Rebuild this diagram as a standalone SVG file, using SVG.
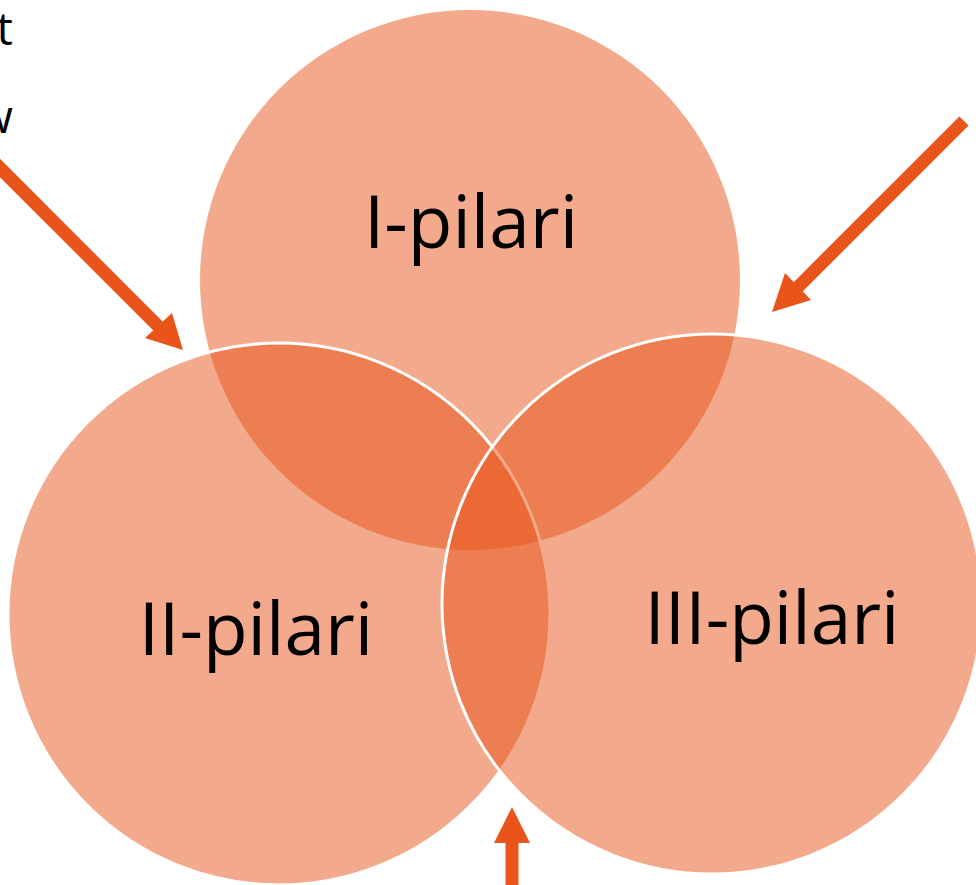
<svg xmlns="http://www.w3.org/2000/svg" width="976" height="885" viewBox="0 0 976 885">
  <style>
    .circ { fill: #E75318; fill-opacity: 0.5; }
    .edge { stroke: #FFFFFF; stroke-width: 3; }
    .lbl { font-family: "Open Sans", "DejaVu Sans", sans-serif; font-size: 73px; fill: #000000; text-anchor: middle; }
    .side { font-family: "Open Sans", "DejaVu Sans", sans-serif; font-size: 46px; fill: #000000; text-anchor: end; }
    .arrow { fill: #E8541A; }
    .shaft { stroke: #E8541A; stroke-width: 13; fill: none; }
  </style>
  <rect width="976" height="885" fill="#FFFFFF"/>
  <text class="side" x="13" y="45">t</text>
  <text class="side" x="13" y="133">w</text>
  <g id="pilar1">
    <circle class="circ" cx="470" cy="280" r="270"/>
    <text class="lbl" x="471" y="248">I-pilari</text>
  </g>
  <g id="pilar2">
    <circle class="circ edge" cx="279" cy="614" r="271"/>
    <text class="lbl" x="256" y="655">II-pilari</text>
  </g>
  <g id="pilar3">
    <circle class="circ edge" cx="712" cy="604" r="270"/>
    <text class="lbl" x="772" y="644">III-pilari</text>
  </g>
  <g id="connectors">
    <line class="shaft" x1="-10" y1="158" x2="162" y2="330"/>
    <polygon class="arrow" points="183,350 145,338 172,313"/>
    <line class="shaft" x1="964" y1="121" x2="796" y2="289"/>
    <polygon class="arrow" points="772,312 785,273 811,300"/>
    <line class="shaft" x1="512" y1="885" x2="512" y2="840"/>
    <polygon class="arrow" points="512,807 530,843 494,843"/>
  </g>
</svg>
